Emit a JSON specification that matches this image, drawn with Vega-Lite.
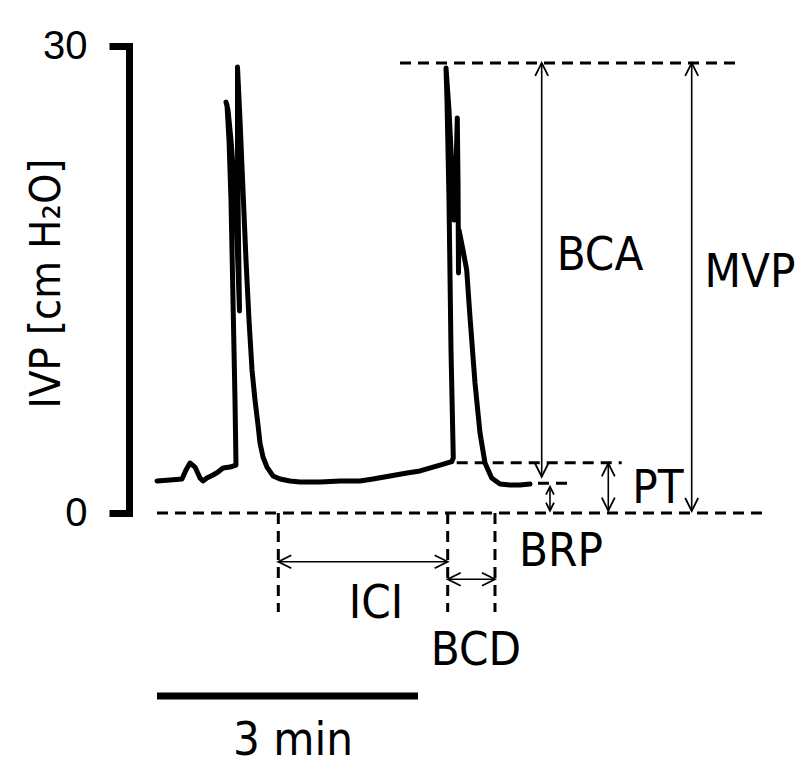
{
  "$schema": "https://vega.github.io/schema/vega-lite/v6.json",
  "autosize": "none",
  "width": 678,
  "height": 467,
  "padding": {"left": 129, "top": 46, "right": 0, "bottom": 258},
  "background": "white",
  "config": {"view": {"stroke": null}},
  "datasets": {
    "trace": [
      {"i":1,"t":0,"v":2.06},{"i":2,"t":8.97,"v":2.12},{"i":3,"t":17.24,"v":2.18},{"i":4,"t":20.0,"v":2.76},
      {"i":5,"t":22.76,"v":3.21},{"i":6,"t":26.21,"v":2.95},{"i":7,"t":29.66,"v":2.25},{"i":8,"t":31.72,"v":2.06},
      {"i":9,"t":34.48,"v":2.25},{"i":10,"t":38.62,"v":2.44},{"i":11,"t":42.07,"v":2.63},{"i":12,"t":45.52,"v":2.89},
      {"i":13,"t":50.34,"v":2.95},{"i":14,"t":54.48,"v":3.08},{"i":15,"t":53.79,"v":7.26},{"i":16,"t":52.41,"v":13.68},
      {"i":17,"t":51.03,"v":20.11},{"i":18,"t":49.66,"v":23.96},{"i":19,"t":48.28,"v":26.21},{"i":20,"t":47.59,"v":26.4},
      {"i":21,"t":48.97,"v":25.89},{"i":22,"t":51.03,"v":23.96},{"i":23,"t":53.1,"v":21.39},{"i":24,"t":55.17,"v":17.54},
      {"i":25,"t":56.9,"v":12.98},{"i":26,"t":56.21,"v":17.54},{"i":27,"t":55.52,"v":23.32},{"i":28,"t":55.52,"v":28.65},
      {"i":29,"t":57.24,"v":25.25},{"i":30,"t":59.31,"v":20.75},{"i":31,"t":61.38,"v":16.25},{"i":32,"t":63.45,"v":12.4},
      {"i":33,"t":65.52,"v":9.19},{"i":34,"t":67.59,"v":7.26},{"i":35,"t":69.66,"v":5.65},{"i":36,"t":71.03,"v":4.5},
      {"i":37,"t":73.1,"v":3.6},{"i":38,"t":75.86,"v":2.95},{"i":39,"t":80.0,"v":2.38},{"i":40,"t":84.83,"v":2.18},
      {"i":41,"t":91.72,"v":2.06},{"i":42,"t":98.62,"v":1.99},{"i":43,"t":112.41,"v":1.99},{"i":44,"t":126.21,"v":2.06},
      {"i":45,"t":140.0,"v":2.06},{"i":46,"t":148.97,"v":2.18},{"i":47,"t":160.69,"v":2.38},{"i":48,"t":172.41,"v":2.57},
      {"i":49,"t":181.38,"v":2.7},{"i":50,"t":195.17,"v":3.08},{"i":51,"t":203.24,"v":3.3},{"i":52,"t":204.34,"v":3.53},
      {"i":53,"t":202.76,"v":10.47},{"i":54,"t":201.38,"v":20.11},{"i":55,"t":200.0,"v":26.53},{"i":56,"t":199.31,"v":28.59},
      {"i":57,"t":201.38,"v":25.89},{"i":58,"t":203.45,"v":22.03},{"i":59,"t":204.83,"v":18.82},{"i":60,"t":206.21,"v":22.03},
      {"i":61,"t":207.1,"v":25.37},{"i":62,"t":207.59,"v":21.39},{"i":63,"t":207.93,"v":15.42},{"i":64,"t":208.28,"v":18.18},
      {"i":65,"t":209.66,"v":17.54},{"i":66,"t":211.03,"v":16.89},{"i":67,"t":213.59,"v":15.61},{"i":68,"t":215.86,"v":12.59},
      {"i":69,"t":219.31,"v":8.35},{"i":70,"t":222.76,"v":5.14},{"i":71,"t":226.21,"v":3.21},{"i":72,"t":230.83,"v":2.25},
      {"i":73,"t":236.55,"v":1.86},{"i":74,"t":243.45,"v":1.8},{"i":75,"t":250.34,"v":1.8},{"i":76,"t":257.24,"v":1.86}
    ],
    "dashes": [
      {"t":167.59,"t2":400.69,"v":28.91,"v2":28.91},
      {"t":206.69,"t2":320.48,"v":3.23,"v2":3.23},
      {"t":262.76,"t2":283.45,"v":1.91,"v2":1.91},
      {"t":0,"t2":419.31,"v":0,"v2":0},
      {"t":83.66,"t2":83.66,"v":0,"v2":-6.36},
      {"t":200.48,"t2":200.48,"v":0,"v2":-6.36},
      {"t":233.1,"t2":233.1,"v":0,"v2":-6.36}
    ],
    "arrows": [
      {"name":"ICI","t":83.66,"t2":200.48,"v":-3.13,"v2":-3.13},
      {"name":"BCD","t":200.48,"t2":233.1,"v":-4.26,"v2":-4.26},
      {"name":"BCA","t":265.31,"t2":265.31,"v":28.91,"v2":2.33},
      {"name":"BRP","t":271.03,"t2":271.03,"v":1.69,"v2":0.15},
      {"name":"PT","t":311.24,"t2":311.24,"v":3.19,"v2":0.15},
      {"name":"MVP","t":368.76,"t2":368.76,"v":28.91,"v2":0.13}
    ],
    "heads": [
      {"name":"ICI","t":83.66,"v":-3.13,"dir":"left"},
      {"name":"ICI","t":200.48,"v":-3.13,"dir":"right"},
      {"name":"BCD","t":200.48,"v":-4.26,"dir":"left"},
      {"name":"BCD","t":233.1,"v":-4.26,"dir":"right"},
      {"name":"BCA","t":265.31,"v":28.91,"dir":"up"},
      {"name":"BCA","t":265.31,"v":2.33,"dir":"down"},
      {"name":"PT","t":311.24,"v":3.19,"dir":"up"},
      {"name":"PT","t":311.24,"v":0.15,"dir":"down"},
      {"name":"MVP","t":368.76,"v":28.91,"dir":"up"},
      {"name":"MVP","t":368.76,"v":0.13,"dir":"down"},
      {"name":"BRP","t":271.03,"v":1.69,"dir":"up"},
      {"name":"BRP","t":271.03,"v":0.15,"dir":"down"}
    ],
    "labels": [
      {"t":305.52,"v":15.61,"txt":"BCA"},
      {"t":408.97,"v":14.52,"txt":"MVP"},
      {"t":345.52,"v":0.64,"txt":"PT"},
      {"t":278.62,"v":-3.4,"txt":"BRP"},
      {"t":151.03,"v":-6.75,"txt":"ICI"},
      {"t":220.0,"v":-9.76,"txt":"BCD"},
      {"t":93.79,"v":-15.55,"txt":"3 min"}
    ],
    "scalebar": [{"t":0,"t2":180,"v":-11.76}]
  },
  "encoding": {
    "x": {"field": "t", "type": "quantitative", "scale": {"domain": [-19.31, 448.28], "nice": false, "zero": false}, "axis": null},
    "y": {"field": "v", "type": "quantitative", "scale": {"domain": [0, 30], "nice": false},
      "axis": {
        "values": [0, 30], "format": "d", "grid": false,
        "title": "IVP [cm H₂O]",
        "titleFont": "Liberation Sans Narrow, Arial Narrow, DejaVu Sans Condensed, sans-serif",
        "titleFontSize": 43, "titleFontWeight": "normal", "titleColor": "black",
        "titleX": -70, "titleY": 237, "titleBaseline": "alphabetic", "titleAngle": -90, "titleAlign": "center",
        "labelFont": "Liberation Sans, Arial, sans-serif", "labelFontSize": 40, "labelColor": "black",
        "labelPadding": 22,
        "tickSize": 20, "tickWidth": 7, "tickColor": "black",
        "domainWidth": 7, "domainColor": "black", "domainCap": "square"
      }
    }
  },
  "layer": [
    {
      "data": {"name": "trace"},
      "mark": {"type": "line", "color": "black", "strokeWidth": 5, "strokeJoin": "round", "strokeCap": "round"},
      "encoding": {
        "order": {"field": "i", "type": "quantitative"}
      }
    },
    {
      "data": {"name": "dashes"},
      "mark": {"type": "rule", "color": "black", "strokeWidth": 3, "strokeDash": [11, 7]},
      "encoding": {
        "x2": {"field": "t2"},
        "y2": {"field": "v2"}
      }
    },
    {
      "data": {"name": "arrows"},
      "mark": {"type": "rule", "color": "black", "strokeWidth": 1.6},
      "encoding": {
        "x2": {"field": "t2"},
        "y2": {"field": "v2"}
      }
    },
    {
      "data": {"name": "heads"},
      "transform": [{"filter": "datum.name != 'BRP'"}],
      "mark": {"type": "point", "filled": false, "stroke": "black", "strokeWidth": 1.8, "opacity": 1, "size": 676},
      "encoding": {
        "shape": {"field": "dir", "type": "nominal", "legend": null,
          "scale": {"domain": ["left", "right", "up", "down"],
            "range": ["M1,-0.5L0,0L1,0.5", "M-1,-0.5L0,0L-1,0.5", "M-0.5,1L0,0L0.5,1", "M-0.5,-1L0,0L0.5,-1"]}}
      }
    },
    {
      "data": {"name": "heads"},
      "transform": [{"filter": "datum.name == 'BRP'"}],
      "mark": {"type": "point", "filled": false, "stroke": "black", "strokeWidth": 1.8, "opacity": 1, "size": 256},
      "encoding": {
        "shape": {"field": "dir", "type": "nominal", "legend": null,
          "scale": {"domain": ["left", "right", "up", "down"],
            "range": ["M1,-0.6L0,0L1,0.6", "M-1,-0.6L0,0L-1,0.6", "M-0.6,1L0,0L0.6,1", "M-0.6,-1L0,0L0.6,-1"]}}
      }
    },
    {
      "data": {"name": "scalebar"},
      "mark": {"type": "rule", "color": "black", "strokeWidth": 7},
      "encoding": {
        "x2": {"field": "t2"}
      }
    },
    {
      "data": {"name": "labels"},
      "mark": {"type": "text", "color": "black", "fontSize": 47, "align": "center", "baseline": "alphabetic",
        "font": "Liberation Sans Narrow, Arial Narrow, DejaVu Sans Condensed, sans-serif"},
      "encoding": {
        "text": {"field": "txt"}
      }
    }
  ]
}
